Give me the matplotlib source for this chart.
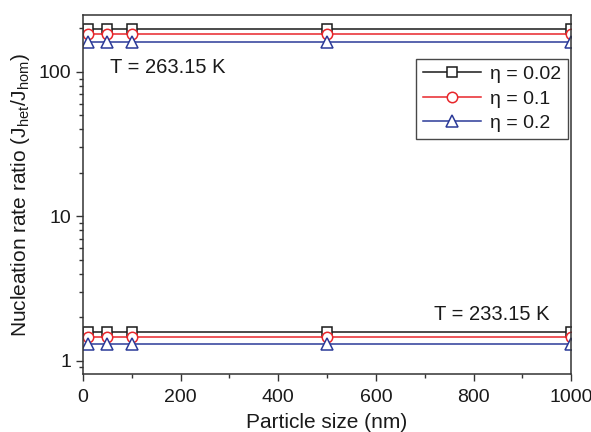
import matplotlib
matplotlib.use("Agg")
import matplotlib.pyplot as plt
from matplotlib.ticker import LogLocator, NullFormatter, FixedLocator

plt.rcParams['font.family'] = ['Liberation Sans', 'DejaVu Sans']
plt.rcParams['mathtext.fontset'] = 'custom'
plt.rcParams['mathtext.rm'] = 'Liberation Sans'
plt.rcParams['mathtext.it'] = 'Liberation Sans:italic'

# Particle sizes (nm)
sizes = [10, 50, 100, 500, 1000]
etas = ["0.02", "0.1", "0.2"]

# Ratio J_het / J_hom at T = 263.15 K
ratio_263 = {
    "0.02": [197, 197, 197, 197, 197],
    "0.1": [184, 184, 184, 184, 184],
    "0.2": [162, 162, 162, 162, 162],
}
# Ratio J_het / J_hom at T = 233.15 K
ratio_233 = {
    "0.02": [1.57, 1.57, 1.57, 1.57, 1.57],
    "0.1": [1.46, 1.46, 1.46, 1.46, 1.46],
    "0.2": [1.30, 1.30, 1.30, 1.30, 1.30],
}

styles = {
    "0.02": dict(color="#1a1a1a", marker="s", ms=6.5),
    "0.1": dict(color="#e8262b", marker="o", ms=7.5),
    "0.2": dict(color="#2b3a98", marker="^", ms=9),
}

fig = plt.figure(figsize=(5.91, 4.32), dpi=100)
ax = fig.add_axes([0.1404, 0.1343, 0.826, 0.831])

for eta in etas:
    st = styles[eta]
    kw = dict(color=st["color"], marker=st["marker"], markersize=st["ms"],
              markerfacecolor="white", markeredgecolor=st["color"],
              markeredgewidth=1.1, linewidth=1.1)
    ax.plot(sizes, ratio_263[eta], label=f"\u03b7 = {eta}", **kw)
    ax.plot(sizes, ratio_233[eta], **kw)

ax.set_yscale("log")
ax.set_xlim(0, 1000)
ax.set_ylim(0.81, 248)

ax.xaxis.set_major_locator(FixedLocator([0, 200, 400, 600, 800, 1000]))
ax.xaxis.set_minor_locator(FixedLocator([100, 300, 500, 700, 900]))
ax.yaxis.set_major_locator(LogLocator(base=10))
ax.yaxis.set_minor_locator(LogLocator(base=10, subs=range(2, 10)))
ax.yaxis.set_minor_formatter(NullFormatter())
ax.set_yticks([1, 10, 100])
ax.set_yticklabels(["1", "10", "100"])

ax.tick_params(which="both", direction="out", top=False, right=False,
               labelsize=14, width=1.0, colors="#1a1a1a")
ax.tick_params(which="major", length=5)
ax.tick_params(which="minor", length=3)
ax.tick_params(axis="x", pad=6)
ax.tick_params(axis="both", which="both", color="#333333")

for sp in ax.spines.values():
    sp.set_color("#333333")
    sp.set_linewidth(1.1)

ax.set_xlabel("Particle size (nm)", fontsize=15, labelpad=5, color="#1a1a1a")
ax.set_ylabel("Nucleation rate ratio (J$_{\\rm het}$/J$_{\\rm hom}$)",
              fontsize=15, labelpad=5, color="#1a1a1a")

ax.text(55, 108, "T = 263.15 K", fontsize=14.5,
        va="center", ha="left", color="#1a1a1a")
ax.text(955, 2.08, "T = 233.15 K", fontsize=14.5, va="center", ha="right",
        color="#1a1a1a")

leg = ax.legend(loc="upper right", bbox_to_anchor=(0.993, 0.878), fontsize=14,
                frameon=True, fancybox=False, edgecolor="#1a1a1a",
                handlelength=3.0, borderpad=0.35, labelspacing=0.35,
                handletextpad=0.45, borderaxespad=0.0)
leg.get_frame().set_linewidth(1.0)
for t in leg.get_texts():
    t.set_color("#1a1a1a")

fig.savefig("out.png", dpi=100)
